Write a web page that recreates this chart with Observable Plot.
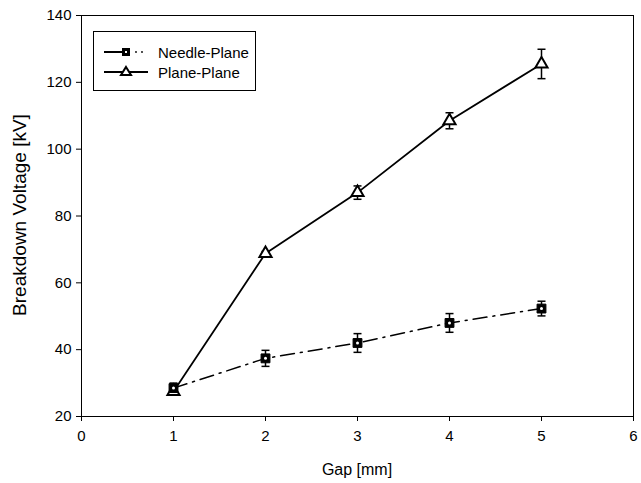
<!DOCTYPE html>
<html><head>
<meta charset="utf-8">
<script src="https://cdn.jsdelivr.net/npm/d3@7"></script>
<script src="https://cdn.jsdelivr.net/npm/@observablehq/plot@0.6"></script>
<style>
body{margin:0;background:#fff;}
#wrap{position:relative;width:641px;height:483px;font-family:"Liberation Sans",Arial,sans-serif;color:#000;}
#legend{position:absolute;left:93px;top:31px;width:163px;height:60px;border:1px solid #000;box-sizing:border-box;background:#fff;font-size:15px;}
.row{position:absolute;left:0;height:20px;display:flex;align-items:center;}
.row svg{margin-left:10px;}
.row span{margin-left:10px;}
.xtitle{position:absolute;left:81px;width:552px;top:461px;text-align:center;font-size:16px;line-height:18px;}
.ytitle{position:absolute;left:20px;top:215px;font-size:19px;line-height:20px;white-space:nowrap;transform:translate(-50%,-50%) rotate(-90deg);}
</style>
</head><body><div id="wrap"></div>
<script>
const series = ["Needle-Plane", "Plane-Plane"];
const gaps = [1, 2, 3, 4, 5];
const needleMean = [28.5, 37.4, 42, 48, 52.3];
const needleErr = [1.5, 2.4, 2.8, 2.8, 2.2];
const planeMean = [27.5, 68.8, 87, 108.5, 125.5];
const planeErr = [0.8, 0.6, 2, 2.4, 4.4];
const xTicks = [0, 1, 2, 3, 4, 5, 6];
const yTicks = [20, 40, 60, 80, 100, 120, 140];
const xTitle = "Gap [mm]";
const yTitle = "Breakdown Voltage [kV]";

const needle = gaps.map((g, i) => ({gap: g, mean: needleMean[i], err: needleErr[i], series: series[0]}));
const plane = gaps.map((g, i) => ({gap: g, mean: planeMean[i], err: planeErr[i], series: series[1]}));
const all = needle.concat(plane);

const cap = {draw(ctx, size) {const w = Math.sqrt(size / Math.PI); ctx.moveTo(-w, 0); ctx.lineTo(w, 0);}};

const chart = Plot.plot({
  width: 641, height: 483,
  marginLeft: 81, marginRight: 8, marginTop: 15, marginBottom: 67,
  style: {fontFamily: '"Liberation Sans", Arial, sans-serif', fontSize: "15px", color: "#000", background: "#fff"},
  x: {domain: [0, 6]},
  y: {domain: [20, 140]},
  marks: [
    Plot.frame({stroke: "#000", strokeWidth: 1}),
    Plot.axisX({ticks: xTicks, tickFormat: d3.format("d"), tickSize: 5, tickPadding: 9, fontSize: 15, label: null}),
    Plot.axisY({ticks: yTicks, tickFormat: d3.format("d"), tickSize: 5, tickPadding: 5, fontSize: 15, label: null}),
    Plot.line(needle, {x: "gap", y: "mean", stroke: "#000", strokeWidth: 1.5, strokeDasharray: "14,6,2,6"}),
    Plot.line(plane, {x: "gap", y: "mean", stroke: "#000", strokeWidth: 1.8}),
    Plot.link(all, {x1: "gap", x2: "gap", y1: d => d.mean - d.err, y2: d => d.mean + d.err, stroke: "#000", strokeWidth: 1.5}),
    Plot.dot(all, {x: "gap", y: d => d.mean + d.err, symbol: cap, r: 4, stroke: "#000", strokeWidth: 1.5, fill: "none"}),
    Plot.dot(all, {x: "gap", y: d => d.mean - d.err, symbol: cap, r: 4, stroke: "#000", strokeWidth: 1.5, fill: "none"}),
    Plot.dot(plane, {x: "gap", y: "mean", symbol: "triangle", r: 4.5, fill: "#fff", stroke: "#000", strokeWidth: 2}),
    Plot.dot(needle, {x: "gap", y: "mean", symbol: "square", r: 5, fill: "#000", stroke: "#000", strokeWidth: 1}),
    Plot.dot(needle, {x: "gap", y: "mean", r: 1.5, fill: "#fff"})
  ]
});
const wrap = document.getElementById("wrap");
wrap.appendChild(chart);

const xt = document.createElement("div");
xt.className = "xtitle"; xt.textContent = xTitle; wrap.appendChild(xt);
const yt = document.createElement("div");
yt.className = "ytitle"; yt.textContent = yTitle; wrap.appendChild(yt);

const legend = document.createElement("div");
legend.id = "legend";
legend.innerHTML = `
<div class="row" style="top:10px"><svg width="44" height="20"><line x1="0" y1="10" x2="18" y2="10" stroke="#000" stroke-width="2"/><rect x="18" y="6" width="8" height="8" fill="#000"/><rect x="21" y="9" width="2" height="2" fill="#fff"/><circle cx="32" cy="10" r="0.9" fill="#000"/><circle cx="38" cy="10" r="0.9" fill="#000"/></svg><span>${series[0]}</span></div>
<div class="row" style="top:30px"><svg width="44" height="20"><line x1="0" y1="10" x2="44" y2="10" stroke="#000" stroke-width="2"/><path d="M22,5 L27,13 L17,13 Z" fill="#fff" stroke="#000" stroke-width="2"/></svg><span>${series[1]}</span></div>`;
wrap.appendChild(legend);
</script>
</body></html>
